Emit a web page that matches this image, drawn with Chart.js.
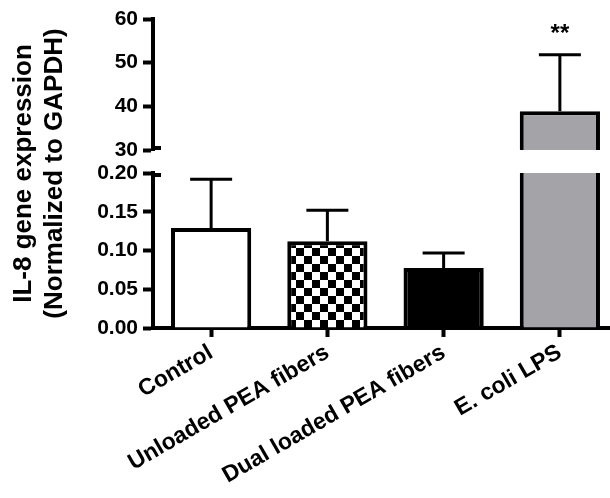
<!DOCTYPE html>
<html>
<head>
<meta charset="utf-8">
<script src="https://cdn.jsdelivr.net/npm/chart.js@4.4.1/dist/chart.umd.min.js"></script>
<style>
  html, body { margin: 0; padding: 0; overflow: hidden; background: #fff; }
  #wrap { width: 618px; height: 498px; }
</style>
</head>
<body>
<div id="wrap"><canvas id="chart"></canvas></div>
<script>
const categories = ['Control', 'Unloaded PEA fibers', 'Dual loaded PEA fibers', 'E. coli LPS'];
const means = [0.129, 0.112, 0.0774, 38.9];
const errorTops = [0.192, 0.152, 0.0968, 51.8];
const significance = ['', '', '', '**'];
const lowerTicks = [0, 0.05, 0.10, 0.15, 0.20];
const upperTicks = [30, 40, 50, 60];
const yTitle = ['IL-8 gene expression', '(Normalized to GAPDH)'];

const FONT = "'Liberation Sans', Arial, Helvetica, sans-serif";
const lowerMax = lowerTicks[lowerTicks.length - 1];

function checkerPattern(size) {
    const c = document.createElement('canvas');
    c.width = c.height = size * 2;
    const g = c.getContext('2d');
    g.fillStyle = '#fff';
    g.fillRect(0, 0, size * 2, size * 2);
    g.fillStyle = '#000';
    g.fillRect(0, 0, size, size);
    g.fillRect(size, size, size, size);
    return g.createPattern(c, 'repeat');
}

const fills = ['#ffffff', checkerPattern(8), '#000000', '#a4a3a7'];

// error bars, axis break marks, significance stars and the y title
const extras = {
    id: 'extras',
    afterDatasetsDraw(chart) {
        const { ctx, scales: { x, yLow, yHigh } } = chart;
        ctx.save();
        ctx.strokeStyle = '#000';
        ctx.fillStyle = '#000';

        ctx.lineWidth = 3;
        means.forEach((m, i) => {
            const ys = m > lowerMax ? yHigh : yLow;
            const cx = x.getPixelForValue(i);
            const y0 = ys.getPixelForValue(m);
            const y1 = ys.getPixelForValue(errorTops[i]);
            ctx.beginPath();
            ctx.moveTo(cx, y0);
            ctx.lineTo(cx, y1);
            ctx.moveTo(cx - 21, y1);
            ctx.lineTo(cx + 21, y1);
            ctx.stroke();
            if (significance[i]) {
                ctx.font = 'bold 24px ' + FONT;
                ctx.textAlign = 'center';
                ctx.textBaseline = 'alphabetic';
                ctx.fillText(significance[i], cx, y1 - 14);
            }
        });

        // little stubs where the axis is broken
        ctx.lineWidth = 4;
        const ax = yLow.right;
        [yHigh.bottom - 2, yLow.top + 2].forEach(y => {
            ctx.beginPath();
            ctx.moveTo(ax - 2, y);
            ctx.lineTo(ax + 8, y);
            ctx.stroke();
        });

        // y title, centred on the whole broken axis
        const cy = (yHigh.top + yLow.bottom) / 2;
        ctx.translate(24, cy);
        ctx.rotate(-Math.PI / 2);
        ctx.font = 'bold 26px ' + FONT;
        ctx.textAlign = 'center';
        ctx.textBaseline = 'middle';
        yTitle.forEach((line, k) => ctx.fillText(line, 0, k * 31));
        ctx.restore();
    }
};

const tickFont = { family: FONT, size: 21, weight: 'bold' };
const axisWidth = s => { s.width = 153; };

function yAxis(ticks, weight, stackWeight) {
    return {
        type: 'linear',
        position: 'left',
        stack: 'y',
        stackWeight: stackWeight,
        weight: weight,
        min: ticks[0],
        max: ticks[ticks.length - 1],
        afterBuildTicks: s => { s.ticks = ticks.map(v => ({ value: v })); },
        ticks: {
            color: '#000',
            font: tickFont,
            padding: 5,
            callback: v => (ticks === lowerTicks ? v.toFixed(2) : String(v))
        },
        grid: { drawOnChartArea: false, tickLength: 10, tickWidth: 4, tickColor: '#000', color: '#000' },
        border: { color: '#000', width: 4 },
        afterFit: axisWidth
    };
}

new Chart(document.getElementById('chart'), {
    type: 'bar',
    data: {
        labels: categories,
        datasets: [
            {
                data: means,
                yAxisID: 'yLow',
                backgroundColor: fills,
                borderColor: '#000',
                borderWidth: 4,
                grouped: false,
                barPercentage: 0.69,
                categoryPercentage: 1
            },
            {
                data: means.map(m => (m > lowerMax ? m : null)),
                yAxisID: 'yHigh',
                backgroundColor: fills,
                borderColor: '#000',
                borderWidth: 4,
                grouped: false,
                barPercentage: 0.69,
                categoryPercentage: 1
            }
        ]
    },
    options: {
        responsive: true,
        maintainAspectRatio: false,
        animation: false,
        layout: { padding: { top: 19, left: 0, right: 0, bottom: 0 } },
        plugins: { legend: { display: false }, tooltip: { enabled: false } },
        scales: {
            x: {
                type: 'category',
                offset: true,
                grid: { drawOnChartArea: false, offset: false, tickLength: 9, tickWidth: 4, tickColor: '#000', color: '#000' },
                border: { color: '#000', width: 4 },
                ticks: {
                    color: '#000',
                    font: { family: FONT, size: 23, weight: 'bold' },
                    minRotation: 30,
                    maxRotation: 30,
                    autoSkip: false,
                    padding: 2
                },
                afterFit: s => { s.height = 170; }
            },
            yLow: yAxis(lowerTicks, 1, 155),
            yGap: {
                type: 'linear',
                position: 'left',
                stack: 'y',
                stackWeight: 23,
                weight: 2,
                min: 0,
                max: 1,
                ticks: { display: false },
                grid: { display: false },
                border: { display: false },
                afterFit: axisWidth
            },
            yHigh: yAxis(upperTicks, 3, 131)
        }
    },
    plugins: [extras]
});
</script>
</body>
</html>
